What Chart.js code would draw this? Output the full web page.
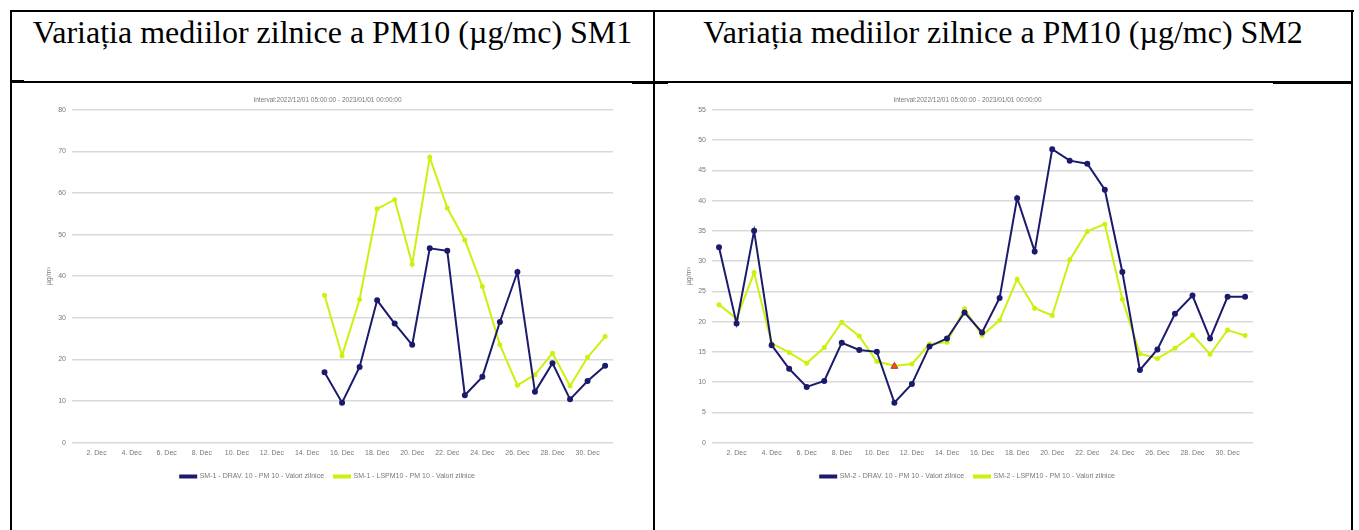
<!DOCTYPE html>
<html>
<head>
<meta charset="utf-8">
<script src="https://cdn.jsdelivr.net/npm/chart.js@4.4.1/dist/chart.umd.min.js"></script>
<style>
  body { margin: 0; background: #fff; width: 1359px; height: 530px; overflow: hidden; position: relative; }
  .ln { position: absolute; background: #000; }
  .head { position: absolute; top: 12px; height: 40px; line-height: 40px; text-align: center;
    font-family: "Liberation Serif", "Times New Roman", serif; font-size: 32px; color: #000; white-space: nowrap; }
  canvas { position: absolute; }
</style>
</head>
<body>
<div class="ln" style="left:10px;top:10px;width:1344px;height:2px"></div>
<div class="ln" style="left:10px;top:10px;width:2px;height:520px"></div>
<div class="ln" style="left:653px;top:10px;width:2px;height:520px"></div>
<div class="ln" style="left:1351px;top:10px;width:2px;height:520px"></div>
<div class="ln" style="left:10px;top:81px;width:1343px;height:1.5px"></div>
<div class="ln" style="left:10px;top:80px;width:14px;height:3px"></div>
<div class="ln" style="left:632px;top:81px;width:36px;height:3px"></div>
<div class="ln" style="left:1273px;top:81px;width:80px;height:3px"></div>

<div class="head" style="left:12px;width:641px">Variația mediilor zilnice a PM10 (µg/mc) SM1</div>
<div class="head" style="left:655px;width:696px">Variația mediilor zilnice a PM10 (µg/mc) SM2</div>

<canvas id="chartSM1" width="640" height="440" style="left:12px;top:86px"></canvas>
<canvas id="chartSM2" width="697" height="440" style="left:656px;top:86px"></canvas>

<script>
// SM1 - only second half of december has data
const sm1Days = [15, 16, 17, 18, 19, 20, 21, 22, 23, 24, 25, 26, 27, 28, 29, 30, 31];
const sm1Drav = [16.9, 9.6, 18.2, 34.2, 28.6, 23.5, 46.7, 46.1, 11.4, 15.8, 29.0, 41.0, 12.2, 19.1, 10.4, 14.8, 18.5];
const sm1Lspm = [35.4, 20.9, 34.4, 56.2, 58.4, 42.9, 68.6, 56.4, 48.7, 37.5, 23.5, 13.8, 16.3, 21.5, 13.6, 20.5, 25.5];

// SM2 - full month
const sm2Days = [1, 2, 3, 4, 5, 6, 7, 8, 9, 10, 11, 12, 13, 14, 15, 16, 17, 18, 19, 20, 21, 22, 23, 24, 25, 26, 27, 28, 29, 30, 31];
const sm2Drav = [32.3, 19.7, 35.0, 16.1, 12.2, 9.2, 10.2, 16.5, 15.3, 15.0, 6.6, 9.7, 15.9, 17.2, 21.5, 18.2,
  23.9, 40.4, 31.6, 48.5, 46.6, 46.1, 41.8, 28.2, 12.0, 15.4, 21.3, 24.3, 17.2, 24.1, 24.1];
const sm2Lspm = [22.8, 20.5, 28.1, 16.4, 14.9, 13.1, 15.7, 19.9, 17.6, 13.4, 12.7, 13.0, 16.3, 16.6, 22.1, 17.7,
  20.2, 27.0, 22.2, 21.0, 30.2, 34.9, 36.1, 23.7, 14.7, 13.9, 15.6, 17.8, 14.6, 18.6, 17.7];
const sm2FlagDays = [11];
const sm2FlagValues = [12.6];

const intervalText = "Interval:2022/12/01 05:00:00 - 2023/01/01 00:00:00";
const unitText = "µg/m³";

const navy = "#1b1b6d";
const lime = "#cbf20e";
const textGrey = "#777";
const FONT = "'Liberation Sans', Arial, sans-serif";

const toPoints = (days, vals) => days.map((d, i) => ({ x: d, y: vals[i] }));

function makeChart(id, station, days, drav, lspm, yMax, yStep, pad, extra) {
  const datasets = [
    {
      label: station + " - DRAV. 10 - PM 10 - Valori zilnice",
      data: toPoints(days, drav),
      borderColor: navy,
      backgroundColor: navy,
      borderWidth: 2,
      pointRadius: 2,
      pointHoverRadius: 2,
      tension: 0,
    },
    {
      label: station + " - LSPM10 - PM 10 - Valori zilnice",
      data: toPoints(days, lspm),
      borderColor: lime,
      backgroundColor: lime,
      borderWidth: 2,
      pointRadius: 1.5,
      pointHoverRadius: 1.5,
      tension: 0,
    },
  ];
  if (extra) datasets.push(extra);

  return new Chart(document.getElementById(id), {
    type: "line",
    data: { datasets: datasets },
    options: {
      responsive: false,
      animation: false,
      layout: { padding: pad },
      plugins: {
        title: {
          display: true,
          text: intervalText,
          color: textGrey,
          font: { family: FONT, size: 6.5, weight: "normal" },
          padding: { top: 10, bottom: 6 },
        },
        legend: {
          position: "bottom",
          labels: {
            color: textGrey,
            font: { family: FONT, size: 7 },
            boxWidth: 16,
            boxHeight: 2,
            padding: 10,
            filter: (item) => item.datasetIndex < 2,
          },
        },
        tooltip: { enabled: false },
      },
      scales: {
        x: {
          type: "linear",
          min: 0.6,
          max: 31.45,
          grid: { display: false, drawTicks: false },
          border: { display: false },
          ticks: {
            stepSize: 2,
            includeBounds: false,
            autoSkip: false,
            maxRotation: 0,
            padding: 6,
            color: textGrey,
            font: { family: FONT, size: 7 },
            callback: (v) => v + ". Dec",
          },
        },
        y: {
          min: 0,
          max: yMax,
          afterFit: (scale) => { scale.width = 30; },
          grid: { color: "#d9d9d9", lineWidth: 1.5, drawTicks: false },
          border: { display: false },
          ticks: {
            stepSize: yStep,
            padding: 6,
            color: textGrey,
            font: { family: FONT, size: 7 },
          },
          title: {
            display: true,
            text: unitText,
            color: textGrey,
            font: { family: FONT, size: 7 },
            padding: { top: 3, bottom: 0 },
          },
        },
      },
    },
  });
}

makeChart("chartSM1", "SM-1", sm1Days, sm1Drav, sm1Lspm, 80, 10,
  { left: 30, right: 39, top: 0, bottom: 36 });

makeChart("chartSM2", "SM-2", sm2Days, sm2Drav, sm2Lspm, 55, 5,
  { left: 26, right: 100, top: 0, bottom: 36 },
  {
    label: "flag",
    data: toPoints(sm2FlagDays, sm2FlagValues),
    order: -1,
    showLine: false,
    pointStyle: "triangle",
    pointRadius: 4,
    pointHoverRadius: 4,
    backgroundColor: "#e4572e",
    borderColor: "#c0392b",
    borderWidth: 1,
  });
</script>
</body>
</html>
